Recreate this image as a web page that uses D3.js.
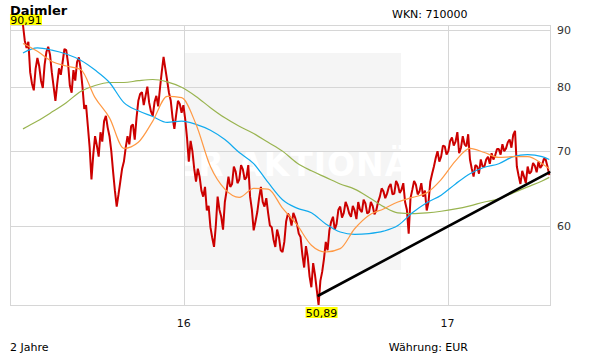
<!DOCTYPE html>
<html>
<head>
<meta charset="utf-8">
<script src="https://cdn.jsdelivr.net/npm/d3@7"></script>
<style>
  body { margin: 0; background: #fff; }
  text { font-family: "DejaVu Sans", Verdana, sans-serif; }
</style>
</head>
<body>
<script>
let w = 611;
let h = 364;

// Daimler, 2 Jahre, Kurse alle 2,5 Tage ab 23.05.2015
let priceStart = "2015-05-23";
let priceStepDays = 2.5;
let prices = [
  90.91, 88.0, 86.7, 87.8, 82.4, 80.5, 79.4, 83.0, 84.9, 83.5,
  81.0, 79.8, 83.7, 86.0, 86.9, 85.5, 82.4, 80.0, 77.7, 80.5,
  83.1, 82.0, 84.2, 86.5, 86.3, 84.0, 80.2, 79.0, 82.8, 81.0,
  84.2, 85.0, 83.1, 80.0, 76.4, 77.0, 73.7, 70.5, 66.0, 69.5,
  72.2, 70.8, 69.2, 72.8, 71.4, 74.5, 75.3, 73.5, 72.2, 70.0,
  67.1, 64.5, 62.4, 64.0, 65.7, 67.5, 68.5, 70.5, 72.2, 71.0,
  73.7, 74.0, 71.7, 75.0, 77.7, 78.8, 79.1, 77.0, 78.5, 80.0,
  77.4, 76.0, 75.3, 77.5, 78.5, 76.8, 79.7, 82.5, 85.1, 83.0,
  81.0, 79.0, 77.7, 75.0, 73.3, 75.5, 77.7, 77.2, 75.8, 77.0,
  74.8, 72.0, 68.5, 71.5, 70.0, 67.5, 65.7, 67.5, 66.4, 64.5,
  63.7, 65.0, 61.9, 62.5, 59.8, 58.5, 57.4, 60.0, 63.7, 62.0,
  61.1, 59.5, 63.0, 64.5, 66.4, 65.0, 65.4, 67.8, 67.1, 65.5,
  66.0, 68.0, 67.4, 66.0, 66.3, 68.0, 63.7, 62.0, 59.4, 60.5,
  61.7, 63.5, 65.0, 63.0, 62.4, 63.5, 61.6, 60.0, 59.8, 58.3,
  57.4, 59.5, 58.6, 57.0, 56.8, 58.0, 60.5, 61.5, 61.1, 60.0,
  61.6, 61.0, 60.2, 59.0, 58.6, 56.5, 55.0, 57.5, 56.2, 54.0,
  52.8, 55.5, 54.2, 52.5, 50.89, 53.5, 54.5, 56.0, 58.0, 57.0,
  59.4, 60.5, 61.1, 59.5, 60.2, 62.0, 62.4, 61.0, 61.6, 63.0,
  62.4, 61.5, 61.1, 62.5, 61.9, 60.8, 63.0, 62.0, 61.7, 63.3,
  62.8, 61.5, 61.7, 63.0, 62.5, 61.4, 61.9, 63.0, 63.7, 64.8,
  64.4, 63.5, 64.1, 65.0, 65.4, 64.0, 64.1, 65.8, 65.3, 64.2,
  64.6, 65.5, 63.0, 62.0, 59.0, 63.5, 64.6, 65.8, 65.3, 64.0,
  64.4, 65.5, 63.7, 64.5, 61.9, 63.0, 65.7, 66.8, 67.8, 69.0,
  70.0, 68.5, 69.2, 70.8, 70.7, 69.5, 70.0, 71.5, 72.0, 70.8,
  71.4, 72.8, 69.7, 70.5, 72.2, 71.0, 70.7, 72.5, 68.8, 67.5,
  66.4, 68.0, 67.8, 66.8, 68.8, 67.8, 67.8, 68.8, 69.2, 68.2,
  69.7, 68.8, 69.4, 70.3, 70.3, 69.5, 71.0, 70.0, 70.4, 71.3,
  71.7, 70.5, 72.4, 73.0, 67.8, 66.5, 65.4, 67.2, 66.4, 65.5,
  67.8, 66.8, 67.1, 68.3, 67.9, 67.0, 68.5, 67.6, 68.0, 68.9,
  68.8, 67.8, 66.6
];

// gleitende Durchschnitte (38, 100, 200 Tage), Stuetzstellen = Index in prices
let maIndex = [0, 8, 16, 24, 32, 40, 48, 56, 64, 72, 80, 88, 96, 104, 112, 120, 128, 136, 144,
  152, 160, 168, 176, 184, 192, 200, 208, 216, 224, 232, 240, 248, 256, 264, 272, 280, 288, 292];
let ma38 = [
  87.5, 86.1, 84.3, 83.5, 82.9, 78.2, 75.0, 70.4, 71.3, 74.5,
  78.4, 78.2, 74.0, 67.8, 64.7, 63.6, 64.8, 64.7, 62.2, 60.1,
  57.6, 56.8, 57.2, 59.6, 61.3, 62.1, 63.0, 63.6, 64.2, 66.0,
  68.6, 70.4, 69.8, 69.1, 69.2, 69.2, 68.2, 67.5
];
let ma100 = [
  85.8, 86.7, 86.3, 85.6, 84.5, 82.8, 80.7, 77.4, 76.1, 75.2,
  74.3, 74.5, 74.0, 73.1, 71.7, 69.8, 68.2, 65.6, 63.3, 62.2,
  61.6, 60.2, 59.2, 58.9, 59.0, 59.3, 60.0, 61.6, 62.9, 63.9,
  65.4, 66.8, 67.7, 68.2, 69.2, 69.5, 69.2, 68.8
];
let ma200 = [
  73.3, 74.5, 75.9, 77.4, 79.2, 80.2, 80.7, 80.7, 81.0, 81.2,
  80.8, 79.9, 78.4, 76.6, 75.0, 73.7, 72.6, 71.3, 70.0, 68.3,
  67.2, 66.3, 65.4, 64.7, 63.6, 62.4, 61.6, 61.5, 61.6, 61.8,
  62.1, 62.5, 63.0, 63.4, 64.2, 65.0, 65.8, 66.3
];

// Trendlinie vom Tief bis zum letzten Kurs
let trendIndex = [164, 292];
let trendValues = [51.9, 67.0];

let yTicks = [60, 70, 80, 90];
let xTicks = ["2016-01-01", "2017-01-01"];
let xTickLabels = ["16", "17"];

let pLeft = 10, pRight = 550, pTop = 25, pBottom = 305;

let parse = d3.utcParse("%Y-%m-%d");
let start = parse(priceStart);
let dates = prices.map((d, i) => new Date(start.getTime() + i * priceStepDays * 864e5));

let x = d3.scaleUtc()
    .domain([parse("2015-05-05"), parse("2017-05-23")])
    .range([pLeft, pRight]);
let y = d3.scaleLog()
    .domain([d3.min(prices), d3.max(prices)])
    .range([pBottom, pTop]);

let svg = d3.select("body")
    .append("svg")
    .attr("width", w)
    .attr("height", h);

// Wasserzeichen
svg.append("rect")
    .attr("x", 184).attr("y", 53)
    .attr("width", 217).attr("height", 217)
    .attr("fill", "#f5f5f5");
svg.append("text")
    .attr("x", 292).attr("y", 176)
    .attr("text-anchor", "middle")
    .attr("font-size", 33)
    .attr("font-weight", "bold")
    .attr("letter-spacing", 1)
    .attr("fill", "#ffffff")
    .text("DER AKTIONÄR");

// Gitter
svg.selectAll(".hgrid")
    .data(yTicks)
    .enter()
    .append("line")
    .attr("x1", pLeft).attr("x2", pRight)
    .attr("y1", d => Math.round(y(d)) + 0.5)
    .attr("y2", d => Math.round(y(d)) + 0.5)
    .attr("stroke", "#d6d6d6");
svg.selectAll(".vgrid")
    .data(xTicks)
    .enter()
    .append("line")
    .attr("x1", d => Math.round(x(parse(d))) + 0.5)
    .attr("x2", d => Math.round(x(parse(d))) + 0.5)
    .attr("y1", pTop).attr("y2", pBottom)
    .attr("stroke", "#d6d6d6");
svg.append("rect")
    .attr("x", pLeft + 0.5).attr("y", pTop + 0.5)
    .attr("width", pRight - pLeft).attr("height", pBottom - pTop)
    .attr("fill", "none")
    .attr("stroke", "#d6d6d6");

// Kurs
let line = d3.line()
    .x((d, i) => x(dates[i]))
    .y(d => y(d));
svg.append("path")
    .datum(prices)
    .attr("d", line)
    .attr("fill", "none")
    .attr("stroke", "#cc0000")
    .attr("stroke-width", 2)
    .attr("stroke-linejoin", "bevel");

// Durchschnitte
let maLine = d3.line()
    .x((d, i) => x(dates[maIndex[i]]))
    .y(d => y(d))
    .curve(d3.curveMonotoneX);
[[ma200, "#99b450"], [ma100, "#11aaee"], [ma38, "#ff9944"]].forEach(m => {
    svg.append("path")
        .datum(m[0])
        .attr("d", maLine)
        .attr("fill", "none")
        .attr("stroke", m[1])
        .attr("stroke-width", 1.2);
});

// Trendlinie
svg.append("line")
    .attr("x1", x(dates[trendIndex[0]])).attr("y1", y(trendValues[0]))
    .attr("x2", x(dates[trendIndex[1]])).attr("y2", y(trendValues[1]))
    .attr("stroke", "#000")
    .attr("stroke-width", 2.6)
    .attr("stroke-linecap", "round");

// Hoch / Tief
let hi = d3.maxIndex(prices), lo = d3.minIndex(prices);
let fmt = v => v.toFixed(2).replace(".", ",");
[[hi, -11], [lo, 2]].forEach(p => {
    let cx = x(dates[p[0]]) + 3;
    let cy = y(prices[p[0]]) + p[1];
    svg.append("rect")
        .attr("x", cx - 16).attr("y", cy)
        .attr("width", 32).attr("height", 11)
        .attr("fill", "#ffff00");
    svg.append("text")
        .attr("x", cx).attr("y", cy + 9.5)
        .attr("text-anchor", "middle")
        .attr("font-size", 11)
        .text(fmt(prices[p[0]]));
});

// Achsenbeschriftung
svg.selectAll(".ylab")
    .data(yTicks)
    .enter()
    .append("text")
    .attr("x", 557)
    .attr("y", d => y(d) + 4)
    .attr("font-size", 11)
    .attr("fill", "#333")
    .text(d => d);
svg.selectAll(".xlab")
    .data(xTicks)
    .enter()
    .append("text")
    .attr("x", d => x(parse(d)))
    .attr("y", 327)
    .attr("text-anchor", "middle")
    .attr("font-size", 11)
    .attr("fill", "#111")
    .text((d, i) => xTickLabels[i]);

svg.append("text")
    .attr("x", 10).attr("y", 15)
    .attr("font-size", 13)
    .attr("font-weight", "bold")
    .text("Daimler");
svg.append("text")
    .attr("x", 392).attr("y", 18)
    .attr("font-size", 11)
    .text("WKN: 710000");
svg.append("text")
    .attr("x", 10).attr("y", 351)
    .attr("font-size", 11)
    .text("2 Jahre");
svg.append("text")
    .attr("x", 468).attr("y", 351)
    .attr("text-anchor", "end")
    .attr("font-size", 11)
    .text("Währung: EUR");
</script>
</body>
</html>
